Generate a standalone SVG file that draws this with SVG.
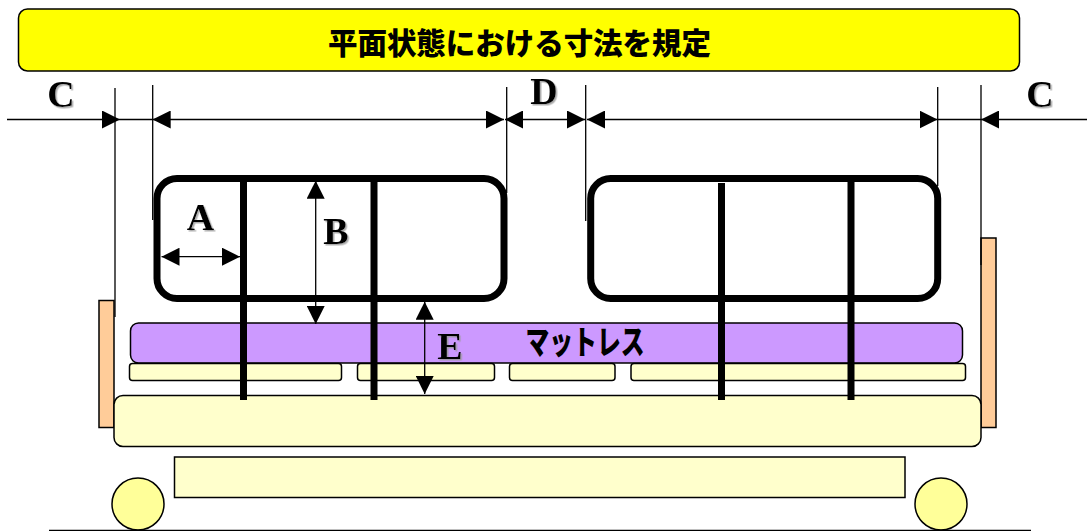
<svg xmlns="http://www.w3.org/2000/svg" width="1087" height="531" viewBox="0 0 1087 531">
  <style>
    .shape { stroke: #000; stroke-width: 1.5; }
    .cream { fill: #FFFFCC; }
    .orange { fill: #FFCC99; }
    .rail { fill: none; stroke: #000; stroke-width: 7; }
    .post { stroke: #000; stroke-width: 7; fill: none; }
    .thin { stroke: #000; stroke-width: 1.3; fill: none; }
    .dim { stroke: #000; stroke-width: 1.3; fill: none; marker-end: url(#tip); }
    .both { marker-start: url(#tipStart); }
    .letter { font-family: "Liberation Serif", serif; font-weight: bold; font-size: 38px; text-anchor: middle; fill: #000; filter: url(#soft); }
    .jp { font-family: "Noto Sans CJK JP", sans-serif; font-weight: 900; text-anchor: middle; fill: #000; }
  </style>
  <defs>
    <marker id="tip" markerUnits="userSpaceOnUse" markerWidth="18" markerHeight="18" refX="18" refY="9" orient="auto">
      <path d="M0 0L18 9L0 18Z" fill="#000"/>
    </marker>
    <marker id="tipStart" markerUnits="userSpaceOnUse" markerWidth="18" markerHeight="18" refX="0" refY="9" orient="auto">
      <path d="M18 0L0 9L18 18Z" fill="#000"/>
    </marker>
    <filter id="soft" x="-20%" y="-20%" width="150%" height="150%">
      <feDropShadow dx="1.5" dy="1.5" stdDeviation="0.5" flood-color="#999" flood-opacity="0.8"/>
    </filter>
  </defs>

  <g id="title">
    <rect class="shape" x="18.500" y="9" width="1001" height="62" rx="9" fill="#FFFF00"/>
    <text class="jp" x="519.500" y="53.500" font-size="29.500" textLength="383" lengthAdjust="spacing">平面状態における寸法を規定</text>
  </g>

  <g id="side-left"><rect class="shape orange" x="99" y="300.500" width="15" height="127"/></g>
  <g id="side-right"><rect class="shape orange" x="981" y="238" width="15" height="189.500"/></g>

  <g id="mattress">
    <rect class="shape" x="130.500" y="323" width="832" height="40" rx="8" fill="#CC99FF"/>
    <text class="jp" x="585" y="353.500" font-size="33" textLength="119" lengthAdjust="spacingAndGlyphs">マットレス</text>
  </g>

  <g id="slats">
    <rect class="shape cream" x="129.500" y="363.500" width="212" height="17" rx="3"/>
    <rect class="shape cream" x="357.500" y="363.500" width="137" height="17" rx="3"/>
    <rect class="shape cream" x="509.500" y="363.500" width="105.500" height="17" rx="3"/>
    <rect class="shape cream" x="631" y="363.500" width="334.500" height="17" rx="3"/>
  </g>

  <g id="base"><rect class="shape cream" x="114" y="395.500" width="867" height="51" rx="9"/></g>
  <g id="chassis"><rect class="shape cream" x="174.500" y="457" width="730.500" height="40.500"/></g>
  <g id="wheel-left"><circle class="shape" cx="138" cy="504" r="26" fill="#FFFF99"/></g>
  <g id="wheel-right"><circle class="shape" cx="941" cy="504" r="26" fill="#FFFF99"/></g>
  <g id="ground"><path class="thin" d="M49 530.500H1031"/></g>

  <g id="rail-left">
    <rect class="rail" x="157" y="178.500" width="347" height="120" rx="20"/>
    <path class="post" d="M243.500 180V400M374 180V400"/>
  </g>
  <g id="rail-right">
    <rect class="rail" x="590.700" y="178.500" width="347" height="120" rx="20"/>
    <path class="post" d="M721.500 183V400M851 180V400"/>
  </g>

  <g id="connectors">
    <path class="thin" d="M115 88V317M152.700 85V220M506.700 87V193M585.700 85V221M937.700 87V186M981 85V265"/>
    <path class="dim" d="M7 119.500H120"/>
    <path class="thin" d="M120 119.500H153"/>
    <path class="dim both" d="M152.700 119.500H504"/>
    <path class="dim both" d="M505 119.500H585"/>
    <path class="dim both" d="M587 119.500H937.500"/>
    <path class="thin" d="M937.500 119.500H981"/>
    <path class="dim" d="M1087 119.500H981"/>
    <path class="dim both" d="M161.500 256.700H240"/>
    <path class="dim both" d="M315.700 180.700V324"/>
    <path class="dim both" d="M424.700 301.700V394"/>
  </g>

  <g id="labels">
    <text class="letter" x="61" y="106.500">C</text>
    <text class="letter" x="1040" y="106.500">C</text>
    <text class="letter" x="544" y="103.500">D</text>
    <text class="letter" x="200.500" y="230">A</text>
    <text class="letter" x="336" y="244">B</text>
    <text class="letter" x="450" y="359">E</text>
  </g>
</svg>
